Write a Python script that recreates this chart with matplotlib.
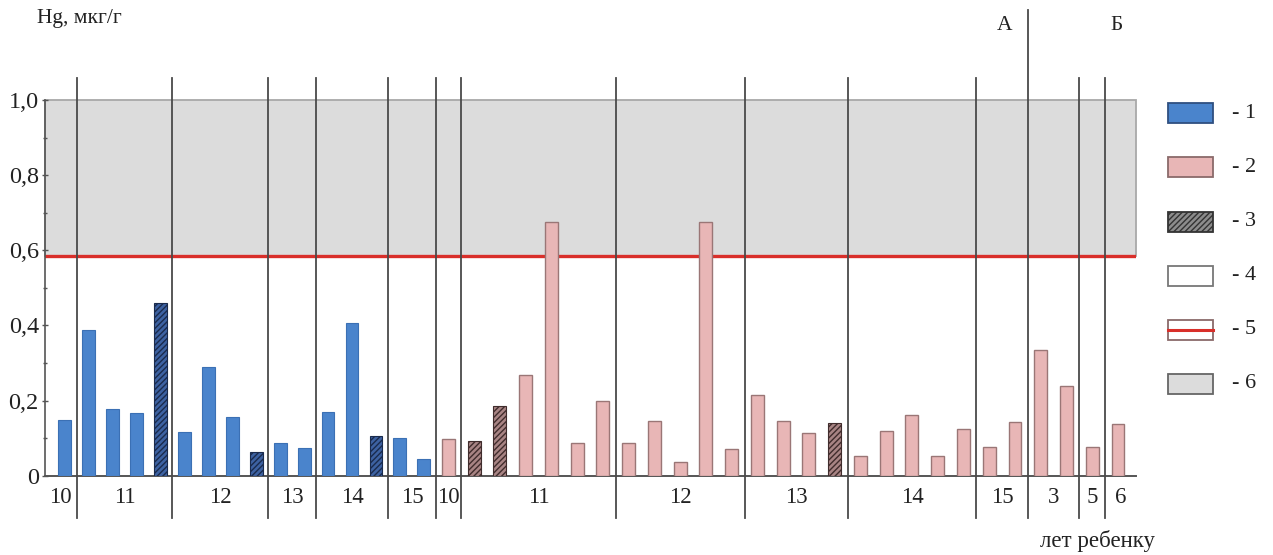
import numpy as np
import matplotlib
matplotlib.use("Agg")
import matplotlib.pyplot as plt
from matplotlib.patches import Rectangle

plt.rcParams["font.family"] = ["Liberation Serif", "DejaVu Serif"]

# Hg, mkg/g — blue series (1) and pink series (2); hatched bars are type 3
blue_vals = [0.148, 0.388, 0.177, 0.166, 0.460, 0.117, 0.289, 0.155,
             0.064, 0.088, 0.074, 0.169, 0.407, 0.106, 0.100, 0.044]
blue_hatched = [4, 8, 13]
blue_groups = ["10", "11", "12", "13", "14", "15"]
blue_sizes = [1, 4, 4, 2, 3, 2]

pink_vals = [0.097, 0.092, 0.186, 0.267, 0.675, 0.088, 0.200, 0.088, 0.146,
             0.037, 0.675, 0.070, 0.216, 0.146, 0.113, 0.139, 0.052, 0.120,
             0.161, 0.052, 0.124, 0.076, 0.142, 0.335, 0.239, 0.077, 0.137]
pink_hatched = [1, 2, 15]
pink_groups = ["10", "11", "12", "13", "14", "15", "3", "5", "6"]
pink_sizes = [1, 6, 5, 4, 5, 2, 2, 1, 1]

limit_value = 0.585
yticks = [0, 0.2, 0.4, 0.6, 0.8, 1.0]
ytick_labels = ["0", "0,2", "0,4", "0,6", "0,8", "1,0"]
legend_labels = ["- 1", "- 2", "- 3", "- 4", "- 5", "- 6"]

W, H = 1273, 555
fig = plt.figure(figsize=(W / 100, H / 100), dpi=100)
ax = fig.add_axes([45 / W, (H - 475.7) / H, 1091 / W, 375.7 / H])


def px(x, y):
    return x / W, (H - y) / H


# positions
blue_x = np.arange(len(blue_vals)) * 0.93
pink_x = blue_x[-1] + 0.95 + np.arange(len(pink_vals))
all_x = np.concatenate([blue_x, pink_x])
xlim = (blue_x[0] - 0.76, pink_x[-1] + 0.70)
ax.set_xlim(*xlim)
ax.set_ylim(0, 1.0)

bw = 0.5
blue_face = "#4a84cc"
pink_face = "#e8b6b6"

for i, (x, v) in enumerate(zip(blue_x, blue_vals)):
    if i in blue_hatched:
        ax.bar(x, v, width=bw, facecolor="#3d62a2", edgecolor="#1a2b4d",
               hatch="//////", linewidth=0.8, zorder=3)
    else:
        ax.bar(x, v, width=bw, facecolor=blue_face, edgecolor="#3b70b4",
               linewidth=0.8, zorder=3)

for i, (x, v) in enumerate(zip(pink_x, pink_vals)):
    if i in pink_hatched:
        ax.bar(x, v, width=bw, facecolor="#a88484", edgecolor="#402c2c",
               hatch="//////", linewidth=0.8, zorder=3)
    else:
        ax.bar(x, v, width=bw, facecolor=pink_face, edgecolor="#9a7676",
               linewidth=1.0, zorder=3)

# gray zone and limit line
ax.add_patch(Rectangle((xlim[0], limit_value), xlim[1] - xlim[0], 1.0 - limit_value,
                       facecolor="#dcdcdc", edgecolor="#a8a8a8", linewidth=1.3,
                       zorder=1, clip_on=False))
ax.axhline(limit_value, color="#d92f2a", linewidth=2.4, zorder=2)

# group boundaries
sizes = blue_sizes + pink_sizes
labels = blue_groups + pink_groups
ends = np.cumsum(sizes)
bounds = [(all_x[e - 1] + all_x[e]) / 2 for e in ends[:-1]]
a_index = len(blue_sizes) + pink_groups.index("3") - 1
for j, b in enumerate(bounds):
    top = 1.24 if j == a_index else 1.058
    ax.plot([b, b], [-0.113, top], color="#4a4a4a", linewidth=1.3,
            zorder=4, clip_on=False)

edges = [xlim[0]] + bounds + [xlim[1]]
for j, lab in enumerate(labels):
    ax.text((edges[j] + edges[j + 1]) / 2, -0.057, lab, ha="center",
            va="center", fontsize=16.5, color="#222222")

# axes styling
for s in ["top", "right"]:
    ax.spines[s].set_visible(False)
ax.spines["left"].set_color("#555555")
ax.spines["bottom"].set_color("#555555")
ax.spines["left"].set_linewidth(1.2)
ax.spines["bottom"].set_linewidth(1.4)
ax.spines["left"].set_zorder(5)
ax.set_xticks([])
ax.set_yticks(yticks)
ax.set_yticklabels(ytick_labels, fontsize=17.5, color="#222222")
ax.set_yticks(np.arange(0.1, 1.0, 0.2), minor=True)
ax.tick_params(axis="y", which="major", direction="inout", length=5,
               width=1, pad=2, color="#555555")
ax.tick_params(axis="y", which="minor", direction="inout", length=3,
               width=1, color="#555555")
ax.patch.set_alpha(0)

# texts
fig.text(*px(37, 18), "Hg, мкг/г", fontsize=15.5, ha="left", va="center",
         color="#222222")
fig.text(*px(1005, 25), "А", fontsize=15.5, ha="center", va="center",
         color="#222222")
fig.text(*px(1117, 25), "Б", fontsize=15.5, ha="center", va="center",
         color="#222222")
fig.text(*px(1098, 541), "лет ребенку", fontsize=16.5, ha="center",
         va="center", color="#222222")

# legend
leg_y = [113, 167, 222, 276, 330, 384]
leg_face = ["#4a84cc", "#e8b6b6", "#8c8c8c", "#ffffff", "#ffffff", "#dcdcdc"]
leg_edge = ["#2f4f80", "#8a6a6a", "#333333", "#777777", "#8a6a6a", "#666666"]
for k, (yc, lab) in enumerate(zip(leg_y, legend_labels)):
    x0, y0 = px(1168, yc + 10)
    hatch = "//////" if k == 2 else None
    fig.add_artist(Rectangle((x0, y0), 45 / W, 20 / H, facecolor=leg_face[k],
                             edgecolor=leg_edge[k], linewidth=1.3,
                             hatch=hatch, transform=fig.transFigure))
    if k == 4:
        xa, ya = px(1168, yc)
        xb, _ = px(1213, yc)
        fig.add_artist(plt.Line2D([xa, xb], [ya, ya], color="#d92f2a",
                                  linewidth=2.2, transform=fig.transFigure))
    fig.text(*px(1232, yc), lab, fontsize=16, ha="left", va="center",
             color="#222222")

fig.savefig("out.png", dpi=100)
